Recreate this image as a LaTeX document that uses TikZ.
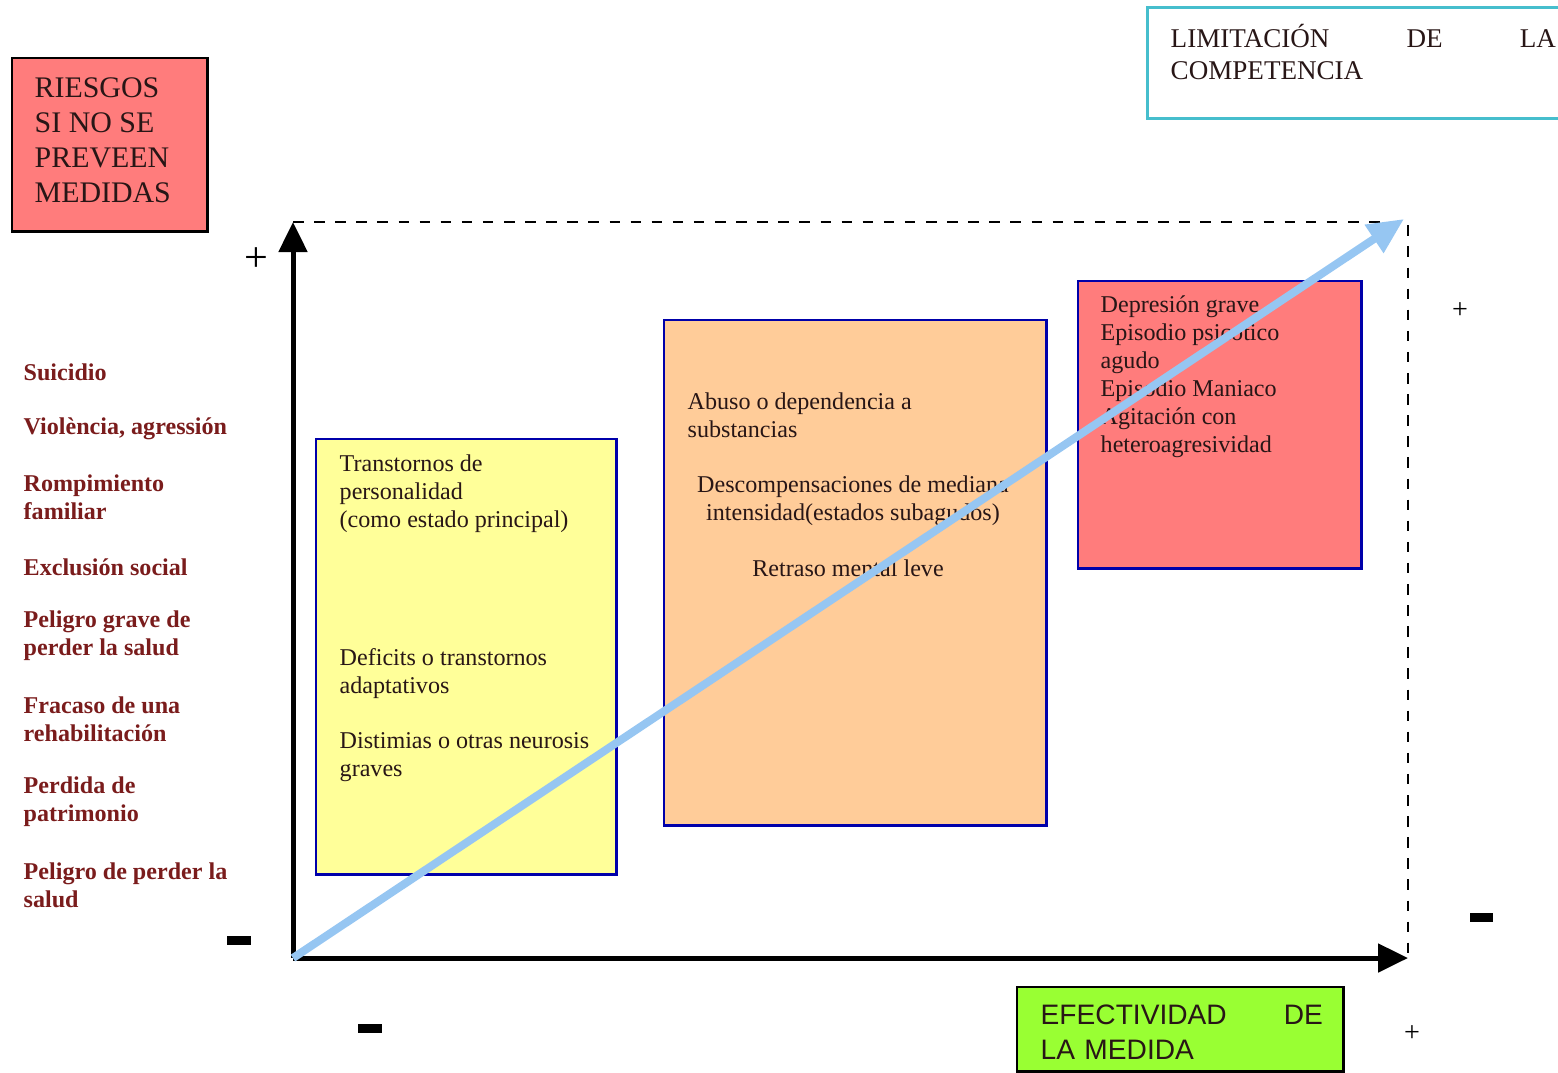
\documentclass[tikz,border=0pt]{standalone}
\usepackage{fontspec}
\setmainfont{Liberation Serif}
\newfontfamily\arialfont{Liberation Sans}
\usetikzlibrary{arrows.meta}

\definecolor{riskred}{RGB}{255,124,124}
\definecolor{lightyellow}{RGB}{255,255,153}
\definecolor{peach}{RGB}{255,204,153}
\definecolor{limegreen}{RGB}{153,255,51}
\definecolor{navyline}{RGB}{0,0,170}
\definecolor{tealline}{RGB}{70,190,205}
\definecolor{wine}{RGB}{122,28,28}
\definecolor{inktext}{RGB}{40,22,22}
\definecolor{trendblue}{RGB}{150,198,242}

\newcommand{\headfont}{\fontsize{8.5pt}{9.96pt}\selectfont}
\newcommand{\limfont}{\fontsize{7.7pt}{9.1pt}\selectfont}
\newcommand{\cellfont}{\fontsize{6.85pt}{7.97pt}\selectfont}
\newcommand{\riskfont}{\fontsize{6.85pt}{7.97pt}\selectfont}
\newcommand{\efffont}{\fontsize{8pt}{9.96pt}\selectfont}

\tikzset{
  cell/.style={draw=navyline, line width=0.7pt, anchor=north west, inner sep=0},
  celltext/.style={anchor=west, align=left, inner sep=0, text=inktext, font=\cellfont},
  risk/.style={anchor=west, align=left, inner sep=0, text=wine, font=\riskfont\bfseries},
  minusbar/.style={fill=black, minimum width=0.23cm, minimum height=0.09cm, inner sep=0},
  axis/.style={line width=0.05cm, -{Triangle[length=0.3cm,width=0.28cm]}},
  frame/.style={dashed, line width=0.6pt}
}

\begin{document}
\begin{tikzpicture}[x=0.01cm,y=-0.01cm]
  \useasboundingbox (0,0) rectangle (1558,1072);

  % titulos
  \node[draw=black, line width=0.7pt, fill=riskred, anchor=north west, minimum width=1.95cm, minimum height=1.73cm] (riesgos) at (11,57) {};
  \node[anchor=west, align=left, inner sep=0, text=inktext, font=\headfont] (riesgostxt) at (34,140.5)
    {RIESGOS\\SI NO SE\\PREVEEN\\MEDIDAS};
  \node[draw=tealline, line width=0.85pt, anchor=north west, minimum width=4.3cm, minimum height=1.11cm] (limit) at (1146,6) {};
  \node[anchor=west, align=left, inner sep=0, text width=3.85cm, text=inktext, font=\limfont] (limittxt) at (1170,52)
    {LIMITACIÓN\hfill DE\hfill LA\\COMPETENCIA};
  \node[draw=black, line width=0.7pt, fill=limegreen, anchor=north west, minimum width=3.26cm, minimum height=0.84cm] (efect) at (1016,986) {};
  \node[anchor=west, align=left, inner sep=0, text width=2.82cm, text=inktext, font=\efffont\arialfont] (efecttxt) at (1040,1032.5)
    {EFECTIVIDAD\hfill DE\\LA MEDIDA};

  % ejes
  \coordinate (O) at (293,958);
  \coordinate (ytop) at (293,222);
  \coordinate (xend) at (1408,958);
  \coordinate (corner) at (1408,222);
  \coordinate (trend) at (1404,219);
  \draw[frame] (ytop) -- (corner) -- (xend);
  \draw[axis] (O) -- (ytop);
  \draw[axis] (O) -- (xend);

  \node[inner sep=0, font=\fontsize{12pt}{12pt}\selectfont] (yplus) at (256,260) {+};
  \node[minusbar] (yminus) at (239,940) {};
  \node[minusbar] (xminus) at (370,1028) {};
  \node[minusbar] (rminus) at (1481,917) {};
  \node[inner sep=0, font=\fontsize{8pt}{8pt}\selectfont] (rplus) at (1460,311) {+};
  \node[inner sep=0, font=\fontsize{8pt}{8pt}\selectfont] (xplus) at (1412,1034) {+};

  % riesgos
  \foreach \yy/\txt [count=\i] in {372/Suicidio, 429/{Violència, agressión}, 497/{Rompimiento\\familiar},
      567/Exclusión social, 635.5/{Peligro grave de\\perder la salud}, 719.5/{Fracaso de una\\rehabilitación},
      802/{Perdida de\\patrimonio}, 885.5/{Peligro de perder la\\salud}}
    \node[risk] (risk\i) at (23,\yy) {\txt};

  % cuadros
  \node[cell, fill=lightyellow, minimum width=3.00cm, minimum height=4.35cm] (leve) at (315,438) {};
  \node[cell, fill=peach, minimum width=3.82cm, minimum height=5.05cm] (media) at (663,319) {};
  \node[cell, fill=riskred, minimum width=2.83cm, minimum height=2.87cm] (grave) at (1077,280) {};

  \node[celltext] (pers) at (339,493.5) {Transtornos de\\personalidad\\(como estado principal)};
  \node[celltext] (adapt) at (339,673.5) {Deficits o transtornos\\adaptativos};
  \node[celltext] (distim) at (339,757) {Distimias o otras neurosis\\graves};

  \node[celltext] (abuso) at (687,415) {Abuso o dependencia a\\substancias};
  \node[celltext, anchor=center, align=center] (descomp) at (853,500.5) {Descompensaciones de mediana\\intensidad(estados subagudos)};
  \node[celltext, anchor=center] (retraso) at (848,568) {Retraso mental leve};

  \node[celltext] (agudo) at (1100,376.5)
    {Depresión grave\\Episodio psicotico\\agudo\\Episodio Maniaco\\Agitación con\\heteroagresividad};

  % tendencia
  \draw[trendblue, line width=0.08cm, -{Triangle[length=0.36cm,width=0.32cm]}] (O) -- (trend);
\end{tikzpicture}
\end{document}
